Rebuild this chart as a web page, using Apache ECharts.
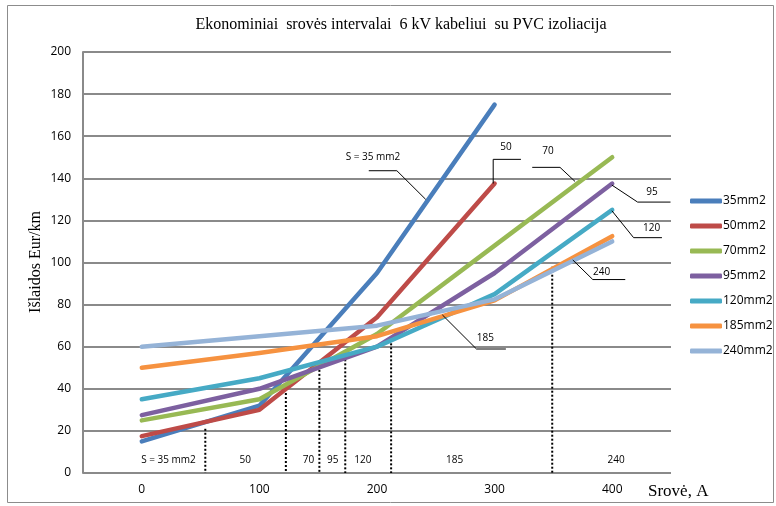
<!DOCTYPE html>
<html>
<head>
<meta charset="utf-8">
<script src="https://cdn.jsdelivr.net/npm/echarts@6/dist/echarts.min.js"></script>
<style>
  html, body { margin: 0; padding: 0; background: #fff; }
  #chart { width: 776px; height: 506px; }
</style>
</head>
<body>
<div id="chart"></div>
<script>
// Current, A (category axis)
const currents = ['0', '100', '200', '300', '400'];

// Annual cost per cross-section, Eur/km
const cableNames = ['35mm2', '50mm2', '70mm2', '95mm2', '120mm2', '185mm2', '240mm2'];
const cost35  = [15, 32, 95, 175];
const cost50  = [17.5, 30, 74, 137.5];
const cost70  = [25, 35, 66, 108, 150];
const cost95  = [27.5, 40, 60, 95, 137.5];
const cost120 = [35, 45, 60, 85, 125];
const cost185 = [50, 57, 65, 82, 112.5];
const cost240 = [60, 65, 70, 82.5, 110];
const costSeries = [cost35, cost50, cost70, cost95, cost120, cost185, cost240];

// Interval limits: [current, cost where the dotted line stops]
const boundaries = [[54, 21], [122.5, 38], [151, 49], [173, 54], [212, 61.6], [349, 98]];

// Interval names along the bottom: [current, cost, text]
const zoneLabels = [
  [22.7, 6.2, 'S = 35 mm2'], [88, 6.2, '50'], [141.8, 6.2, '70'], [162.3, 6.2, '95'],
  [188, 6.2, '120'], [266, 6.2, '185'], [403.4, 6.2, '240']
];

// Call-outs naming the curves: label point and leader path, in [current, cost]
const calloutText = ['S = 35 mm2', '50', '70', '95', '120', '240', '185'];
const calloutAt = [[196.6, 150.1], [309.6, 155], [345.4, 153.1], [433.8, 133.6], [433.5, 116.2], [391, 95.6], [292.1, 64]];
const calloutPath = [
  [[193, 143.6], [216.9, 143.6], [241.4, 130]],
  [[322.4, 149], [298.8, 149], [298.8, 137.5]],
  [[332, 145.2], [355.6, 145.2], [368.4, 138.5]],
  [[399.7, 136.8], [421.6, 128.7], [449.6, 128.7]],
  [[399.7, 124.6], [418.2, 111.8], [442.3, 111.8]],
  [[366.5, 101.2], [383.5, 91.9], [411.1, 91.9]],
  [[255.6, 75.1], [284.6, 58.9], [309.6, 58.9]]
];

const colors = ['#4A7EBB', '#BE4B48', '#98B954', '#7D60A0', '#46AAC5', '#F69240', '#95B3D7'];
const gridGrey = '#8A8A8A';
const sans = "'Open Sans', 'Noto Sans', sans-serif";
const serif = "'Liberation Serif', 'DejaVu Serif', serif";

const chart = echarts.init(document.getElementById('chart'), null, { renderer: 'canvas' });

const lineSeries = cableNames.map((name, i) => ({
  name: name,
  type: 'line',
  xAxisIndex: 0,
  yAxisIndex: 0,
  data: costSeries[i],
  symbol: 'none',
  showSymbol: false,
  z: 3,
  lineStyle: { width: 4.5, color: colors[i], cap: 'round', join: 'round' },
  itemStyle: { color: colors[i] },
  emphasis: { disabled: true },
  animation: false
}));

const option = {
  animation: false,
  color: colors,
  grid: { left: 83, right: 105, top: 52, bottom: 33, containLabel: false },
  xAxis: [
    {
      type: 'category',
      data: currents,
      boundaryGap: true,
      axisLine: { show: false },
      axisTick: { show: false },
      splitLine: { show: false },
      axisLabel: { color: '#000', fontSize: 12, fontFamily: sans, margin: 11 }
    },
    {
      type: 'value',
      min: -50,
      max: 450,
      show: false
    }
  ],
  yAxis: {
    type: 'value',
    min: 0,
    max: 200,
    interval: 20,
    axisLine: { show: true, onZero: false, lineStyle: { color: gridGrey, width: 2 } },
    axisTick: { show: false },
    splitLine: { show: true, lineStyle: { color: gridGrey, width: 2 } },
    axisLabel: { color: '#000', fontSize: 12, fontFamily: sans, margin: 12 }
  },
  legend: {
    data: cableNames,
    orient: 'vertical',
    left: 685,
    top: 190,
    itemWidth: 32,
    itemHeight: 5,
    itemGap: 13,
    icon: 'roundRect',
    selectedMode: false,
    textStyle: { color: '#000', fontSize: 12, fontFamily: sans, padding: [0, 0, 0, -4] }
  },
  graphic: [
    {
      type: 'rect',
      shape: { x: 7.5, y: 5.5, width: 766, height: 497 },
      style: { fill: 'none', stroke: '#8C8C8C', lineWidth: 1 },
      silent: true
    },
    {
      type: 'text',
      x: 401, y: 25,
      style: {
        text: 'Ekonominiai  srovės intervalai  6 kV kabeliui  su PVC izoliacija',
        fill: '#000', font: '16px ' + serif, align: 'center', verticalAlign: 'middle'
      },
      silent: true
    },
    {
      type: 'text',
      x: 36, y: 262,
      rotation: Math.PI / 2,
      style: {
        text: 'Išlaidos Eur/km',
        fill: '#000', font: '16px ' + serif, align: 'center', verticalAlign: 'middle'
      },
      silent: true
    },
    {
      type: 'text',
      x: 648, y: 492,
      style: {
        text: 'Srovė, A',
        fill: '#000', font: '17px ' + serif, align: 'left', verticalAlign: 'middle'
      },
      silent: true
    }
  ],
  series: [
    // dotted limits of the economic intervals
    {
      type: 'custom',
      xAxisIndex: 1,
      yAxisIndex: 0,
      data: boundaries,
      silent: true,
      z: 2,
      renderItem: (params, api) => {
        const top = api.coord([api.value(0), api.value(1)]);
        const bottom = api.coord([api.value(0), 0]);
        return {
          type: 'line',
          shape: { x1: top[0], y1: top[1], x2: bottom[0], y2: bottom[1] },
          style: { stroke: '#000', lineWidth: 2, lineDash: [2, 2] }
        };
      }
    },
    // interval names
    {
      type: 'custom',
      xAxisIndex: 1,
      yAxisIndex: 0,
      data: zoneLabels,
      silent: true,
      z: 4,
      renderItem: (params, api) => {
        const p = api.coord([api.value(0), api.value(1)]);
        return {
          type: 'text',
          x: p[0], y: p[1],
          style: {
            text: zoneLabels[params.dataIndex][2],
            fill: '#000', font: '10px ' + sans, align: 'center', verticalAlign: 'middle'
          }
        };
      }
    },
    ...lineSeries,
    // curve call-outs with leader lines
    {
      type: 'custom',
      xAxisIndex: 1,
      yAxisIndex: 0,
      data: calloutAt,
      silent: true,
      z: 5,
      renderItem: (params, api) => {
        const i = params.dataIndex;
        const pts = calloutPath[i].map(pt => api.coord(pt));
        const p = api.coord([api.value(0), api.value(1)]);
        return {
          type: 'group',
          children: [
            {
              type: 'polyline',
              shape: { points: pts },
              style: { stroke: '#000', lineWidth: 1, fill: 'none' }
            },
            {
              type: 'text',
              x: p[0], y: p[1],
              style: {
                text: calloutText[i],
                fill: '#000', font: '10px ' + sans, align: 'center', verticalAlign: 'middle'
              }
            }
          ]
        };
      }
    }
  ]
};

chart.setOption(option);
</script>
</body>
</html>
